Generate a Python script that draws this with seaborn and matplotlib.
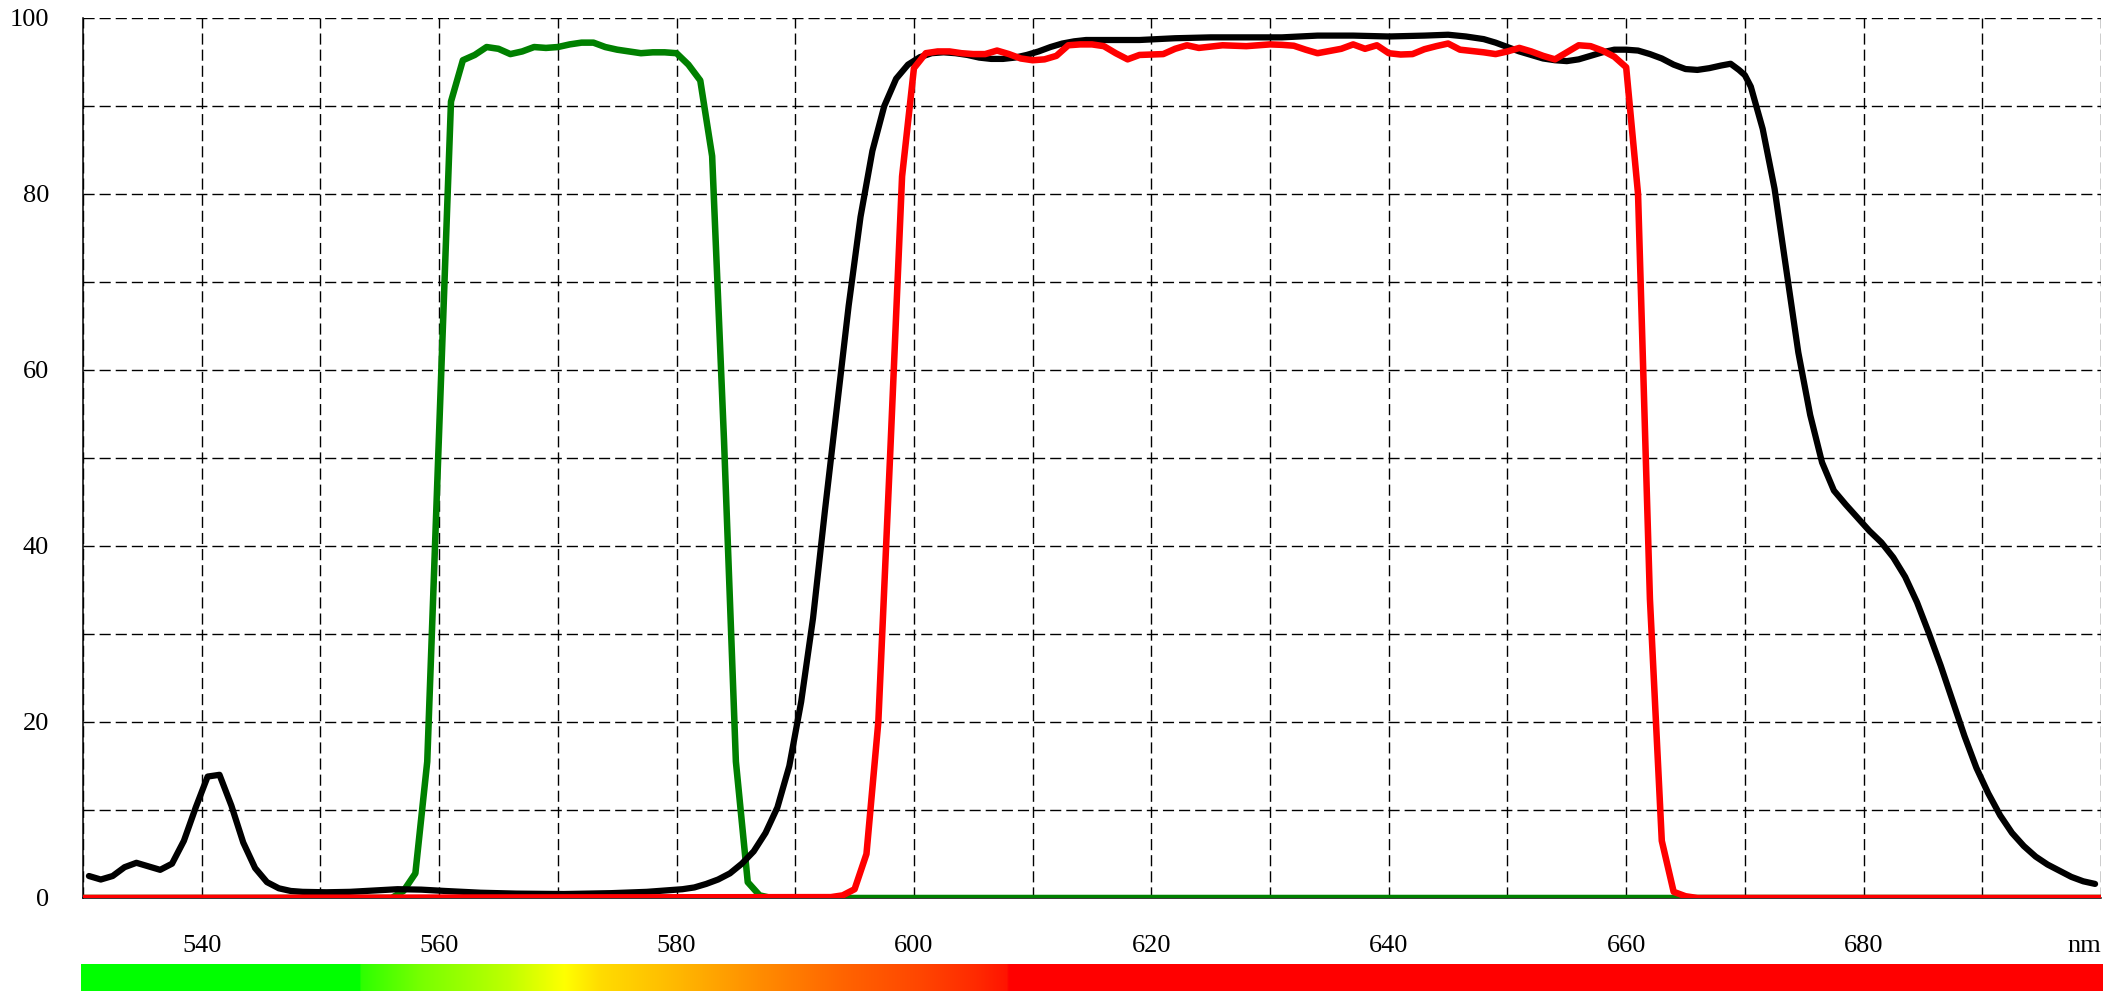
import numpy as np
import pandas as pd
import matplotlib
matplotlib.use("Agg")
import matplotlib.pyplot as plt
import seaborn as sns

# ---------------- data ----------------
black_nm = [530.5, 531.5, 532.5, 533.5, 534.5, 535.5, 536.5, 537.5, 538.5, 539.5,
            540.5, 541.5, 542.5, 543.5, 544.5, 545.5, 546.5, 547.5, 548.5, 550.5,
            552.5, 554.5, 556.5, 558.5, 560.5, 563.5, 566.5, 570.5, 574.5, 577.5,
            579.5, 580.5, 581.5, 582.5, 583.5, 584.5, 585.5, 586.5, 587.5, 588.5,
            589.5, 590.5, 591.5, 592.5, 593.5, 594.5, 595.5, 596.5, 597.5, 598.5,
            599.5, 600.5, 601.5, 602.5, 603.5, 604.5, 605.5, 606.5, 607.5, 608.5,
            609.5, 610.5, 611.5, 612.5, 613.5, 614.5, 616, 619, 622, 625,
            628, 631, 634, 637, 640, 643, 645, 646.5, 648, 649,
            650, 651, 652, 653, 654, 655, 656, 657, 658, 659,
            660, 661, 662, 663, 664, 665, 666, 667, 668, 668.8,
            669.5, 670, 670.5, 671.5, 672.5, 673.5, 674.5, 675.5, 676.5, 677.5,
            678.5, 679.5, 680.5, 681.5, 682.5, 683.5, 684.5, 685.5, 686.5, 687.5,
            688.5, 689.5, 690.5, 691.5, 692.5, 693.5, 694.5, 695.5, 696.5, 697.5,
            698.5, 699.5]
black_T = [2.5, 2.1, 2.5, 3.5, 4.0, 3.6, 3.2, 3.9, 6.5, 10.3,
           13.8, 14.0, 10.5, 6.3, 3.4, 1.8, 1.1, 0.8, 0.7, 0.65,
           0.7, 0.85, 1.0, 0.95, 0.8, 0.6, 0.5, 0.45, 0.55, 0.7,
           0.9, 1.0, 1.2, 1.6, 2.1, 2.8, 3.9, 5.3, 7.4, 10.3,
           15.0, 22.3, 31.8, 44.0, 55.6, 67.3, 77.4, 84.9, 90.0, 93.1,
           94.7, 95.55, 96.0, 96.1, 96.0, 95.8, 95.5, 95.35, 95.35, 95.5,
           95.8, 96.2, 96.7, 97.1, 97.35, 97.5, 97.5, 97.5, 97.7, 97.8,
           97.8, 97.8, 98.0, 98.0, 97.9, 98.0, 98.1, 97.9, 97.6, 97.2,
           96.7, 96.2, 95.8, 95.4, 95.2, 95.1, 95.3, 95.7, 96.1, 96.4,
           96.4, 96.3, 95.9, 95.4, 94.7, 94.2, 94.1, 94.3, 94.6, 94.8,
           94.1, 93.5, 92.2, 87.4, 80.6, 71.3, 62.0, 54.9, 49.5, 46.3,
           44.7, 43.2, 41.7, 40.4, 38.7, 36.5, 33.6, 30.1, 26.4, 22.4,
           18.4, 14.8, 11.9, 9.4, 7.4, 5.9, 4.7, 3.8, 3.1, 2.4,
           1.9, 1.6]

green_nm = [530, 556, 557, 558, 559, 560, 561, 562, 563, 564, 565, 566, 567, 568,
            569, 570, 571, 572, 573, 574, 575, 576, 577, 578, 579, 580, 581, 582,
            583, 584, 585, 586, 587, 588, 700]
green_T = [0, 0, 0.8, 2.8, 15.5, 53, 90.5, 95.2, 95.8, 96.7, 96.5, 95.9, 96.2, 96.7,
           96.6, 96.7, 97.0, 97.2, 97.2, 96.7, 96.4, 96.2, 96.0, 96.1, 96.1, 96.0, 94.7, 92.9,
           84.3, 52.0, 15.5, 1.8, 0.3, 0, 0]

red_nm = [530, 593, 594, 595, 596, 597, 598, 599, 600, 601, 602, 603, 604, 605,
          606, 607, 608, 609, 610, 611, 612, 613, 614, 615, 616, 617, 618, 619,
          620, 621, 622, 623, 624, 625, 626, 627, 628, 629, 630, 631, 632, 633,
          634, 635, 636, 637, 638, 639, 640, 641, 642, 643, 644, 645, 646, 647,
          648, 649, 650, 651, 652, 653, 654, 655, 656, 657, 658, 659, 660, 661,
          662, 663, 664, 665, 666, 700]
red_T = [0, 0.1, 0.3, 1.0, 5.0, 20.0, 50.5, 82.0, 94.3, 96.0, 96.2, 96.2, 96.0, 95.9,
         95.9, 96.3, 95.9, 95.4, 95.2, 95.3, 95.7, 96.9, 97.0, 97.0, 96.8, 96.0, 95.3, 95.8,
         95.85, 95.9, 96.5, 96.9, 96.6, 96.75, 96.9, 96.85, 96.8, 96.9, 97.0, 96.95, 96.85, 96.4,
         96.0, 96.25, 96.5, 97.0, 96.5, 96.9, 96.0, 95.85, 95.9, 96.45, 96.8, 97.1, 96.4, 96.25,
         96.1, 95.9, 96.2, 96.6, 96.2, 95.7, 95.3, 96.1, 96.9, 96.8, 96.3, 95.6, 94.4, 80.0,
         34.0, 6.5, 0.7, 0.2, 0, 0]

x_major = [540, 560, 580, 600, 620, 640, 660, 680]
x_labels = ["540", "560", "580", "600", "620", "640", "660", "680"]
y_major = [0, 20, 40, 60, 80, 100]
y_labels = ["0", "20", "40", "60", "80", "100"]
unit_label = "nm"

# colour bar stops (wavelength, R, G, B)
bar_nm = [529.7, 553.2, 553.3, 558.4, 565.7, 570.5, 573.5, 579.0, 587.0, 594.0, 600.5, 605.5, 607.8, 608.0, 700.3]
bar_R = [0, 0, 45, 120, 190, 255, 255, 255, 255, 255, 255, 255, 255, 255, 255]
bar_G = [255, 255, 255, 255, 255, 255, 220, 190, 140, 100, 70, 40, 20, 0, 0]
bar_B = [0] * 15

# ---------------- style ----------------
sns.set_style("white")
plt.rcParams["font.family"] = ["Liberation Serif", "DejaVu Serif"]
plt.rcParams["lines.scale_dashes"] = False

W, H = 2116, 992
fig = plt.figure(figsize=(W / 100, H / 100), dpi=100)
ax = fig.add_axes([83 / W, 1 - 898 / H, (2101 - 83) / W, (898 - 18) / H])

df_g = pd.DataFrame({"nm": green_nm, "T": green_T})
df_k = pd.DataFrame({"nm": black_nm, "T": black_T})
df_r = pd.DataFrame({"nm": red_nm, "T": red_T})

common = dict(estimator=None, sort=False, ax=ax, solid_capstyle="round",
              solid_joinstyle="round", zorder=3)
sns.lineplot(data=df_g, x="nm", y="T", color="#008000", linewidth=4.7, **common)
sns.lineplot(data=df_k, x="nm", y="T", color="#000000", linewidth=4.5, **common)
sns.lineplot(data=df_r, x="nm", y="T", color="#ff0000", linewidth=4.7, **common)

ax.set_xlim(530, 700)
ax.set_ylim(0, 100)
ax.set_xticks(x_major)
ax.set_xticklabels(x_labels)
ax.set_xticks(np.arange(530, 701, 10), minor=True)
ax.set_yticks(y_major)
ax.set_yticklabels(y_labels)
ax.set_yticks(np.arange(0, 101, 10), minor=True)
ax.grid(which="both", color="#000000", linewidth=1.0, linestyle=(0, (8, 3.6)), zorder=1)
ax.set_axisbelow(True)
ax.tick_params(axis="x", which="both", length=0, pad=26.6, labelsize=19, colors="black")
ax.tick_params(axis="y", which="both", length=0, pad=24.5, labelsize=19, colors="black")
ax.set_xlabel("")
ax.set_ylabel("")
for s in ["top", "right"]:
    ax.spines[s].set_visible(False)
for s in ["left", "bottom"]:
    ax.spines[s].set_color("black")
    ax.spines[s].set_linewidth(1.1)

ax.annotate(unit_label, xy=(700, 0), xycoords=("data", "axes fraction"),
            xytext=(0, -26.6), textcoords="offset points", ha="right", va="top",
            fontsize=19, color="black", annotation_clip=False)

# ---------------- colour bar ----------------
cax = fig.add_axes([81 / W, 1 - 991 / H, (2103 - 81) / W, 27 / H])
grid_nm = np.linspace(bar_nm[0], bar_nm[-1], 2000)
rgb = np.stack([np.interp(grid_nm, bar_nm, bar_R),
                np.interp(grid_nm, bar_nm, bar_G),
                np.interp(grid_nm, bar_nm, bar_B)], axis=-1) / 255.0
cax.imshow(rgb[np.newaxis, :, :], aspect="auto",
           extent=(bar_nm[0], bar_nm[-1], 0, 1), interpolation="bilinear")
cax.set_xlim(bar_nm[0], bar_nm[-1])
cax.set_axis_off()

fig.savefig("out.png", dpi=100)
